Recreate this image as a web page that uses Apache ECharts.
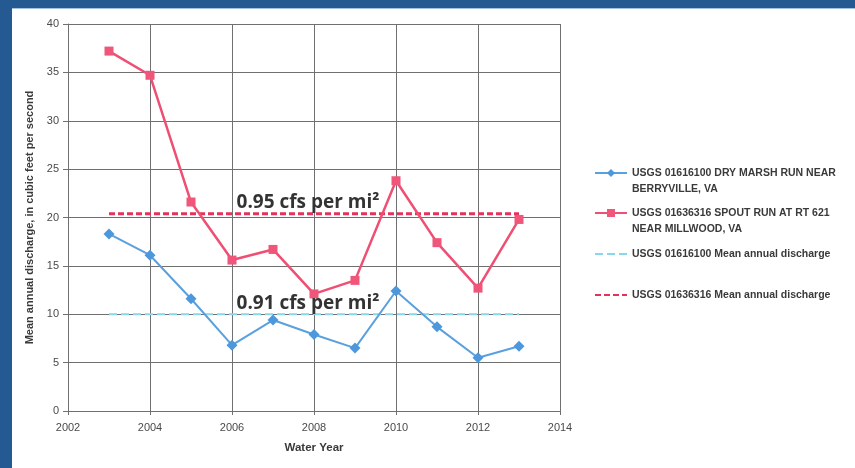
<!DOCTYPE html>
<html><head><meta charset="utf-8">
<script src="https://cdn.jsdelivr.net/npm/echarts@6/dist/echarts.min.js"></script>
<style>
html,body{margin:0;padding:0;width:855px;height:468px;overflow:hidden;background:#245a91;}
#frame{position:absolute;left:12px;top:8px;width:843px;height:460px;background:#fff;border-top:1px solid #9fc3e0;}
#chart{position:absolute;left:0;top:0;width:843px;height:460px;}
</style></head>
<body><div id="frame"><div id="chart"></div></div>
<script>
var years = [2003,2004,2005,2006,2007,2008,2009,2010,2011,2012,2013];
var dryMarsh = [18.3,16.1,11.6,6.8,9.4,7.9,6.5,12.4,8.7,5.5,6.7];
var spoutRun = [37.2,34.7,21.6,15.6,16.7,12.1,13.5,23.8,17.4,12.7,19.8];
var meanYears = [2003, 2013];
var dryMarshMean = 10.0;
var spoutRunMean = 20.4;
var dryMarshLabel = '0.91 cfs per mi²';
var spoutRunLabel = '0.95 cfs per mi²';
var names = [
  'USGS 01616100 DRY MARSH RUN NEAR BERRYVILLE, VA',
  'USGS 01636316 SPOUT RUN AT RT 621 NEAR MILLWOOD, VA',
  'USGS 01616100 Mean annual discharge',
  'USGS 01636316 Mean annual discharge'
];
var legendText = [
  'USGS 01616100 DRY MARSH RUN NEAR\nBERRYVILLE, VA',
  'USGS 01636316 SPOUT RUN AT RT 621\nNEAR MILLWOOD, VA',
  'USGS 01616100 Mean annual discharge',
  'USGS 01636316 Mean annual discharge'
];
var legendTops = [135, 175, 232, 273];

function pairs(xs, ys){ return xs.map(function(x,i){return [x, ys[i]];}); }
function flat(xs, v){ return xs.map(function(x){return [x, v];}); }

var chart = echarts.init(document.getElementById('chart'));
var gridColor = '#707070';
var font = '"Liberation Sans", Arial, sans-serif';
var legends = names.map(function(n, i){
  var multi = legendText[i].indexOf('\n') >= 0;
  var l = {
    data: [n], orient: 'vertical', left: 577, top: legendTops[i],
    itemWidth: 32, itemHeight: 10, itemGap: 0,
    formatter: function(){ return multi ? ' \n' + legendText[i] : legendText[i]; },
    textStyle: { fontFamily: font, fontSize: 10.5, fontWeight: 'bold', color: '#3a3a3a', lineHeight: 16 }
  };
  if (i >= 2) { l.itemStyle = { color: 'rgba(0,0,0,0)', borderWidth: 0, opacity: 0 }; }
  return l;
});
chart.setOption({
  animation: false,
  backgroundColor: '#fff',
  grid: { left: 56, top: 15, right: 295, bottom: 58 },
  legend: legends,
  xAxis: {
    type: 'value', min: 2002, max: 2014, interval: 2,
    name: 'Water Year', nameLocation: 'middle', nameGap: 31,
    nameTextStyle: { fontFamily: font, fontSize: 11.5, fontWeight: 'bold', color: '#3a3a3a' },
    axisLine: { lineStyle: { color: gridColor, width: 1 } },
    axisTick: { show: true, length: 4, lineStyle: { color: gridColor } },
    axisLabel: { fontFamily: font, fontSize: 11, color: '#4a4a4a', margin: 11, formatter: function(v){ return String(v); } },
    splitLine: { show: true, lineStyle: { color: gridColor, width: 1 } }
  },
  yAxis: {
    type: 'value', min: 0, max: 40, interval: 5,
    name: 'Mean annual discharge, in cubic feet per second', nameLocation: 'middle', nameGap: 27,
    nameTextStyle: { fontFamily: font, fontSize: 11, fontWeight: 'bold', color: '#3a3a3a' },
    axisLine: { show: true, lineStyle: { color: gridColor, width: 1 } },
    axisTick: { show: true, length: 5, lineStyle: { color: gridColor } },
    axisLabel: { fontFamily: font, fontSize: 11, color: '#4a4a4a', margin: 9 },
    splitLine: { show: true, lineStyle: { color: gridColor, width: 1 } }
  },
  series: [
    {
      name: names[2], type: 'line', data: flat(meanYears, dryMarshMean),
      symbol: 'none', lineStyle: { color: '#86d8ea', width: 2, type: [8, 4] }, itemStyle: { color: '#86d8ea' },
      z: 2,
      markPoint: { symbol: 'rect', symbolSize: 0, data: [{ coord: [2008, dryMarshMean] }],
        label: { show: true, formatter: dryMarshLabel, offset: [-6, -11], fontFamily: '"Open Sans", sans-serif', fontSize: 19, fontWeight: 'bold', color: '#333' } }
    },
    {
      name: names[3], type: 'line', data: flat(meanYears, spoutRunMean),
      symbol: 'none', lineStyle: { color: '#e5325a', width: 3, type: [6, 3] }, itemStyle: { color: '#e5325a' },
      z: 2,
      markPoint: { symbol: 'rect', symbolSize: 0, data: [{ coord: [2008, spoutRunMean] }],
        label: { show: true, formatter: spoutRunLabel, offset: [-6, -11], fontFamily: '"Open Sans", sans-serif', fontSize: 19, fontWeight: 'bold', color: '#333' } }
    },
    {
      name: names[0], type: 'line', data: pairs(years, dryMarsh),
      symbol: 'diamond', symbolSize: 11,
      lineStyle: { color: '#5aa0de', width: 2 }, itemStyle: { color: '#4d97dd' }, z: 3
    },
    {
      name: names[1], type: 'line', data: pairs(years, spoutRun),
      symbol: 'rect', symbolSize: 9,
      lineStyle: { color: '#ef4f72', width: 2.5 }, itemStyle: { color: '#f0557a' }, z: 4
    }
  ]
});
</script></body></html>
